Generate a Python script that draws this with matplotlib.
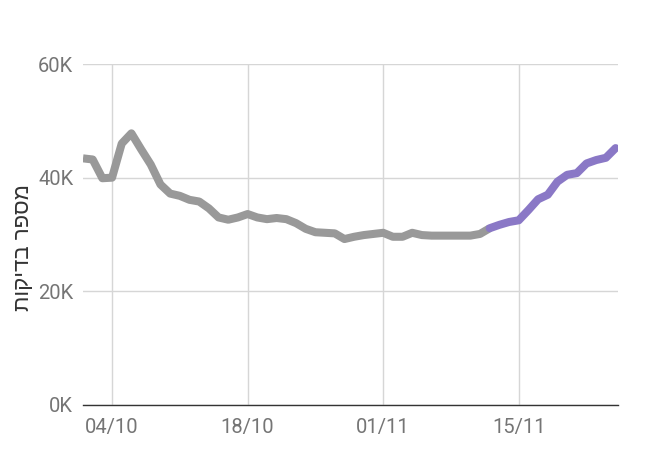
import matplotlib
matplotlib.use("Agg")
import matplotlib.pyplot as plt
import numpy as np
import pandas as pd

dates = pd.date_range("2020-10-01", "2020-11-25", freq="D")
tests_k = [43.4, 43.2, 39.9, 40.0, 46.0, 47.8, 45.0, 42.3, 38.8, 37.2,
           36.8, 36.1, 35.8, 34.6, 33.0, 32.6, 33.0, 33.6, 33.0, 32.7,
           32.9, 32.7, 32.0, 31.0, 30.4, 30.3, 30.2, 29.2, 29.6, 29.9,
           30.1, 30.3, 29.6, 29.6, 30.3, 29.9, 29.8, 29.8, 29.8, 29.8,
           29.8, 30.1, 31.1, 31.7, 32.2, 32.5, 34.3, 36.2, 37.0, 39.3,
           40.5, 40.8, 42.5, 43.1, 43.5, 45.2]
values = np.array(tests_k) * 1000
split_index = 42  # first day drawn in purple (partial / recent data)
tick_dates = ["2020-10-04", "2020-10-18", "2020-11-01", "2020-11-15"]
tick_labels = ["04/10", "18/10", "01/11", "15/11"]
y_ticks = [0, 20000, 40000, 60000]
y_tick_labels = ["0K", "20K", "40K", "60K"]
y_label = "מספר בדיקות"

fig = plt.figure(figsize=(6.53, 4.75), dpi=100)
ax = fig.add_axes([83/653, 1-405/475, (618-83)/653, (405-64)/475])

gray = "#999999"
purple = "#8a78c6"
ax.plot(dates[:split_index+1], values[:split_index+1], color=gray, lw=5.8,
        solid_capstyle="butt", solid_joinstyle="round", zorder=3)
ax.plot(dates[split_index:], values[split_index:], color=purple, lw=5.8,
        solid_capstyle="round", solid_joinstyle="round", zorder=3)

ax.set_ylim(0, 60000)
ax.set_xlim(dates[0], dates[-1] + pd.Timedelta(hours=6))
ax.set_yticks(y_ticks)
ax.set_yticklabels(y_tick_labels)
ax.set_xticks(pd.to_datetime(tick_dates))
ax.set_xticklabels(tick_labels)

for s in ["top", "right", "left"]:
    ax.spines[s].set_visible(False)
ax.spines["bottom"].set_color("#333333")
ax.spines["bottom"].set_linewidth(1.0)
ax.spines["bottom"].set_zorder(4)

ax.grid(True, color="#d6d6d6", lw=1.0, zorder=0)
ax.set_axisbelow(True)
ax.tick_params(axis="both", length=0, colors="#757575", labelsize=14.5)
ax.tick_params(axis="y", pad=7)
ax.tick_params(axis="x", pad=9)
for lbl in ax.get_xticklabels() + ax.get_yticklabels():
    lbl.set_fontfamily("Roboto")

# Hebrew label: reverse for visual RTL order
ax.set_ylabel(y_label[::-1], fontsize=16, color="#333333",
              family=["Liberation Sans", "DejaVu Sans"])
ax.yaxis.set_label_coords(-0.091, 0.463)

fig.savefig("out.png", dpi=100)
